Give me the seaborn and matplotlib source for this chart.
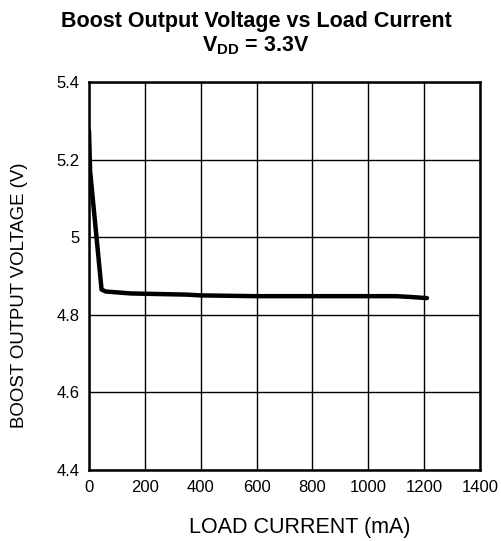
import numpy as np
import pandas as pd
import matplotlib
matplotlib.use('Agg')
import matplotlib.pyplot as plt
import seaborn as sns

# values
load_ma = [0, 4, 45, 60, 150, 350, 400, 600, 1100, 1150, 1210]
vout = [5.275, 5.17, 4.865, 4.860, 4.855, 4.852, 4.850, 4.848, 4.848, 4.846, 4.843]

x_ticks = [0, 200, 400, 600, 800, 1000, 1200, 1400]
y_ticks = [4.4, 4.6, 4.8, 5.0, 5.2, 5.4]
y_labels = ['4.4', '4.6', '4.8', '5', '5.2', '5.4']

sns.set_style('white')
plt.rcParams['font.family'] = ['Liberation Sans', 'DejaVu Sans']
plt.rcParams['mathtext.default'] = 'regular'
plt.rcParams['text.color'] = 'black'
plt.rcParams['axes.labelcolor'] = 'black'

df = pd.DataFrame({'load': load_ma, 'vout': vout})

fig = plt.figure(figsize=(5.02, 5.41), dpi=100)
ax = fig.add_axes([89/502, 1 - 470/541, 391/502, 388/541])

sns.lineplot(data=df, x='load', y='vout', ax=ax, color='black', linewidth=3.2)

ax.set_xlim(0, 1400)
ax.set_ylim(4.4, 5.4)
ax.set_xticks(x_ticks)
ax.set_yticks(y_ticks)
ax.set_yticklabels(y_labels)
ax.tick_params(length=0, labelsize=12, colors='black', pad=7)
ax.grid(True, color='black', linewidth=1)
for s in ax.spines.values():
    s.set_color('black')
    s.set_linewidth(1.8)

ax.set_xlabel('LOAD CURRENT (mA)', fontsize=15.5)
ax.set_ylabel('BOOST OUTPUT VOLTAGE (V)', fontsize=13.4)
ax.xaxis.set_label_coords((300 - 89) / 391, -(527 - 470) / 388)
ax.yaxis.set_label_coords(-(89 - 20) / 391, (470 - 295) / 388)
ax.xaxis.label.set_va('center')
ax.yaxis.label.set_va('center')

fig.text(256/502, 1 - 22/541, 'Boost Output Voltage vs Load Current', ha='center', va='center',
         fontsize=15.5, fontweight='bold', color='black')
fig.text(256/502, 1 - 46/541, 'V$_{DD}$ = 3.3V', ha='center', va='center',
         fontsize=15.5, fontweight='bold', color='black')

fig.savefig('out.png', dpi=100)
